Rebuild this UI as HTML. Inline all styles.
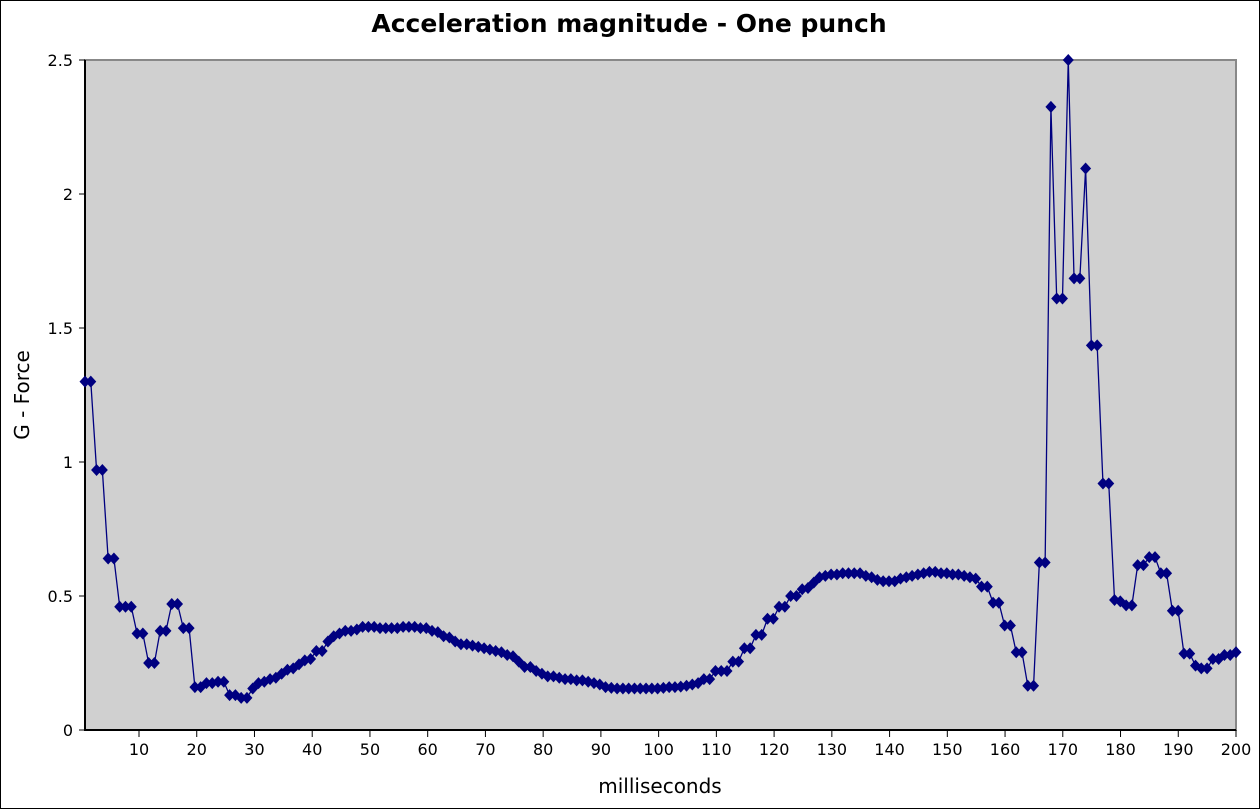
<!DOCTYPE html>
<html><head><meta charset="utf-8"><style>
html,body{margin:0;padding:0;background:#fff;}
svg{display:block;font-family:"DejaVu Sans","Liberation Sans",sans-serif;}
</style></head><body>
<svg id="chart" width="1260" height="809" viewBox="0 0 1260 809">
<rect x="0.5" y="0.5" width="1259" height="808" fill="#fff" stroke="#000"/>
<text x="629" y="32" text-anchor="middle" font-size="25" font-weight="bold">Acceleration magnitude - One punch</text>
<text x="29" y="395" text-anchor="middle" font-size="20" transform="rotate(-90 29 395)">G - Force</text>
<text x="660" y="793" text-anchor="middle" font-size="20">milliseconds</text>
<rect x="85" y="60" width="1151" height="670" fill="#d0d0d0" stroke="#888" stroke-width="2"/>
<g id="ticks"></g>
<g id="series"></g>
</svg>
<script>
const yTicks=[0,0.5,1,1.5,2,2.5];
const yTickLabels=["0","0.5","1","1.5","2","2.5"];
const xTicks=[10,20,30,40,50,60,70,80,90,100,110,120,130,140,150,160,170,180,190,200];
const values=[1.3,1.3,0.97,0.97,0.64,0.64,0.46,0.46,0.46,0.36,0.36,0.25,0.25,0.37,0.37,0.47,0.47,0.38,0.38,0.16,
0.16,0.175,0.175,0.18,0.18,0.13,0.13,0.12,0.12,0.155,0.175,0.18,0.19,0.195,0.21,0.225,0.23,0.245,0.26,0.265,
0.295,0.295,0.33,0.35,0.36,0.37,0.37,0.375,0.385,0.385,0.385,0.38,0.38,0.38,0.38,0.385,0.385,0.385,0.38,0.38,
0.37,0.365,0.35,0.345,0.33,0.32,0.32,0.315,0.31,0.305,0.3,0.295,0.29,0.28,0.275,0.255,0.235,0.235,0.22,0.21,
0.2,0.2,0.195,0.19,0.19,0.185,0.185,0.18,0.175,0.17,0.16,0.157,0.155,0.155,0.155,0.155,0.155,0.155,0.155,0.155,
0.157,0.16,0.16,0.162,0.165,0.17,0.175,0.19,0.19,0.22,0.22,0.22,0.255,0.255,0.305,0.305,0.355,0.355,0.415,0.415,
0.46,0.46,0.5,0.5,0.525,0.53,0.55,0.57,0.575,0.58,0.58,0.585,0.585,0.585,0.585,0.575,0.57,0.56,0.555,0.555,
0.555,0.565,0.57,0.575,0.58,0.585,0.59,0.59,0.585,0.585,0.58,0.58,0.575,0.57,0.565,0.535,0.535,0.475,0.475,0.39,
0.39,0.29,0.29,0.165,0.165,0.625,0.625,2.325,1.61,1.61,2.5,1.685,1.685,2.095,1.435,1.435,0.92,0.92,0.485,0.48,
0.465,0.465,0.615,0.615,0.645,0.645,0.585,0.585,0.445,0.445,0.285,0.285,0.24,0.23,0.23,0.265,0.265,0.28,0.28,0.29];
const NS="http://www.w3.org/2000/svg";
const X0=85,X1=1236,Y0=730,Y1=60;
function xs(i){return X0+(i-1)*(X1-X0)/199;}
function xt(i){return 139+(i-10)*(1236-139)/190;}
function ys(v){return Y0-v*(Y0-Y1)/2.5;}
const tg=document.getElementById('ticks');
function mk(tag,attrs,parent){const e=document.createElementNS(NS,tag);for(const k in attrs)e.setAttribute(k,attrs[k]);parent.appendChild(e);return e;}
yTicks.forEach((v,k)=>{
  const l=mk('line',{x1:79,x2:85,y1:ys(v),y2:ys(v),stroke:'#000'},tg);
  
  
  const t=mk('text',{x:73,y:ys(v)+6,'text-anchor':'end','font-size':'16'},tg);
  t.textContent=yTickLabels[k];
  
  
});
xTicks.forEach(v=>{
  const l=mk('line',{x1:xt(v),x2:xt(v),y1:730,y2:737,stroke:'#000'},tg);
  
  
  const t=mk('text',{x:xt(v),y:755,'text-anchor':'middle','font-size':'16'},tg);
  t.textContent=String(v);
  
  
});
const ax=mk('path',{d:'M85 60 V730 H1236',fill:'none',stroke:'#000','stroke-width':2},tg);


const sg=document.getElementById('series');
const line=mk('polyline',{points:values.map((v,i)=>xs(i+1)+','+ys(v)).join(' '),fill:'none',stroke:'#000080','stroke-width':1.3},sg);


values.forEach((v,i)=>{
  const x=xs(i+1),y=ys(v);
  const p=mk('path',{d:`M${x} ${y-6}L${x+5.5} ${y}L${x} ${y+6}L${x-5.5} ${y}Z`,fill:'#000080'},sg);
  
  
});
</script>
</body></html>
